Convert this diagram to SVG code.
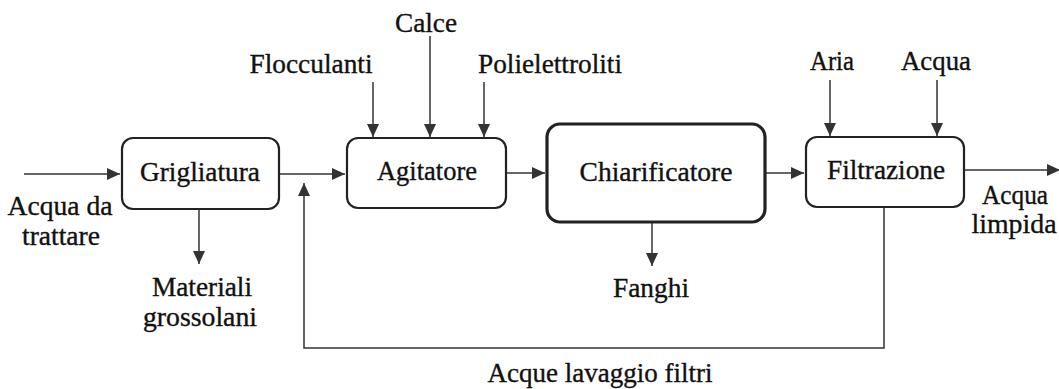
<svg xmlns="http://www.w3.org/2000/svg" width="1059" height="389" viewBox="0 0 1059 389">
<style>
.box{fill:#fff;stroke:#222;stroke-width:2.2}
.thick{stroke-width:3.2}
.ln{fill:none;stroke:#333;stroke-width:1.5}
text{font-family:"Liberation Serif","Times New Roman",serif;font-size:27px;fill:#111;stroke:#111;stroke-width:0.35;text-anchor:middle}
</style>
<defs>
<marker id="ah" markerUnits="userSpaceOnUse" markerWidth="14" markerHeight="12" refX="13" refY="6" orient="auto">
<path d="M0,0 L13,6 L0,12 Z" fill="#333"/>
</marker>
</defs>
<rect width="1059" height="389" fill="#fff"/>
<g id="connectors">
<path class="ln" d="M24,174 H120" marker-end="url(#ah)"/>
<path class="ln" d="M279,174 H345" marker-end="url(#ah)"/>
<path class="ln" d="M199,209 V264" marker-end="url(#ah)"/>
<path class="ln" d="M373,82 V137" marker-end="url(#ah)"/>
<path class="ln" d="M430,36 V137" marker-end="url(#ah)"/>
<path class="ln" d="M484,82 V137" marker-end="url(#ah)"/>
<path class="ln" d="M506,173 H545" marker-end="url(#ah)"/>
<path class="ln" d="M652,222 V266" marker-end="url(#ah)"/>
<path class="ln" d="M765,173 H804" marker-end="url(#ah)"/>
<path class="ln" d="M830,80 V136" marker-end="url(#ah)"/>
<path class="ln" d="M937,80 V136" marker-end="url(#ah)"/>
<path class="ln" d="M964,170 H1060" marker-end="url(#ah)"/>
<path class="ln" d="M884,207 V348 H304 V183" marker-end="url(#ah)"/>
</g>
<g id="grigliatura">
<rect class="box" x="122" y="138" width="157" height="71" rx="11"/>
<text x="200" y="181" textLength="120" lengthAdjust="spacingAndGlyphs">Grigliatura</text>
</g>
<g id="agitatore">
<rect class="box" x="347" y="138" width="159" height="70" rx="11"/>
<text x="427" y="180" textLength="100" lengthAdjust="spacingAndGlyphs">Agitatore</text>
</g>
<g id="chiarificatore">
<rect class="box thick" x="547" y="124" width="218" height="98" rx="13"/>
<text x="656" y="181" textLength="153" lengthAdjust="spacingAndGlyphs">Chiarificatore</text>
</g>
<g id="filtrazione">
<rect class="box" x="806" y="137" width="158" height="70" rx="11"/>
<text x="886" y="179" textLength="118" lengthAdjust="spacingAndGlyphs">Filtrazione</text>
</g>
<g id="labels">
<text x="60" y="215" textLength="105" lengthAdjust="spacingAndGlyphs">Acqua da</text>
<text x="61" y="245" textLength="78" lengthAdjust="spacingAndGlyphs">trattare</text>
<text x="202" y="296" textLength="100" lengthAdjust="spacingAndGlyphs">Materiali</text>
<text x="200" y="326" textLength="114" lengthAdjust="spacingAndGlyphs">grossolani</text>
<text x="426" y="32" textLength="62" lengthAdjust="spacingAndGlyphs">Calce</text>
<text x="311" y="73" textLength="123" lengthAdjust="spacingAndGlyphs">Flocculanti</text>
<text x="550" y="73" textLength="144" lengthAdjust="spacingAndGlyphs">Polielettroliti</text>
<text x="651" y="297" textLength="76" lengthAdjust="spacingAndGlyphs">Fanghi</text>
<text x="832" y="70" textLength="44" lengthAdjust="spacingAndGlyphs">Aria</text>
<text x="936" y="70" textLength="70" lengthAdjust="spacingAndGlyphs">Acqua</text>
<text x="1015" y="204" textLength="66" lengthAdjust="spacingAndGlyphs">Acqua</text>
<text x="1014" y="233" textLength="85" lengthAdjust="spacingAndGlyphs">limpida</text>
<text x="600" y="382" textLength="225" lengthAdjust="spacingAndGlyphs">Acque lavaggio filtri</text>
</g>
</svg>
